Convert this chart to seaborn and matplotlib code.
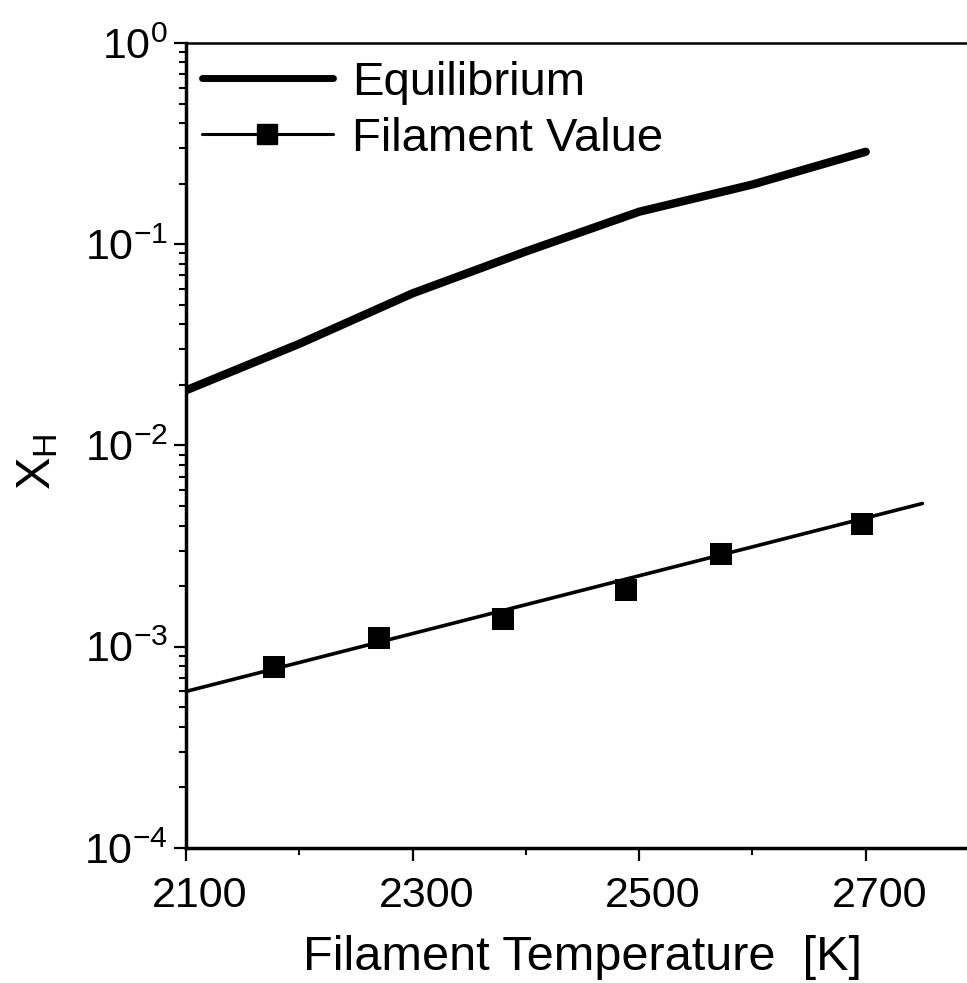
import numpy as np
import pandas as pd
import seaborn as sns
import matplotlib
matplotlib.use("Agg")
import matplotlib.pyplot as plt
from matplotlib.lines import Line2D
from matplotlib.ticker import FixedLocator, MultipleLocator, LogLocator, NullFormatter
from matplotlib.transforms import ScaledTranslation

# Equilibrium H mole fraction vs filament temperature
eq_T = [2100, 2200, 2300, 2400, 2500, 2600, 2700]
eq_X = [0.0188, 0.032, 0.057, 0.092, 0.145, 0.198, 0.288]

# Measured filament values
fil_T = [2178, 2270, 2380, 2488, 2572, 2697]
fil_X = [7.95e-4, 1.10e-3, 1.38e-3, 1.92e-3, 2.90e-3, 4.09e-3]

# Exponential fit through the filament values
fit_T = [2100, 2750]
fit_X = [6.0e-4, 5.15e-3]

x_ticks = [2100, 2300, 2500, 2700]
x_tick_labels = ["2100", "2300", "2500", "2700"]

sns.set_style("ticks")
plt.rcParams["font.family"] = ["Liberation Sans", "DejaVu Sans"]
plt.rcParams["mathtext.fontset"] = "custom"
plt.rcParams["mathtext.rm"] = "Liberation Sans"
plt.rcParams["mathtext.it"] = "Liberation Sans:italic"
plt.rcParams["mathtext.bf"] = "Liberation Sans:bold"
plt.rcParams["text.color"] = "black"

fig = plt.figure(figsize=(9.67, 9.83), dpi=100)
ax = fig.add_axes([0.1923, 0.1373, 1.0124 - 0.1923, 0.9563 - 0.1373])

eq_df = pd.DataFrame({"T": eq_T, "X": eq_X})
fit_df = pd.DataFrame({"T": fit_T, "X": fit_X})
fil_df = pd.DataFrame({"T": fil_T, "X": fil_X})

sns.lineplot(data=eq_df, x="T", y="X", ax=ax, color="black", linewidth=6.0,
             solid_capstyle="round", solid_joinstyle="round", legend=False)
sns.lineplot(data=fit_df, x="T", y="X", ax=ax, color="black", linewidth=2.6,
             solid_capstyle="round", legend=False)
sns.scatterplot(data=fil_df, x="T", y="X", ax=ax, color="black", marker="s",
                s=16 ** 2, linewidth=0, legend=False, zorder=3)

ax.set_yscale("log")
ax.set_xlim(2100, 2800)
ax.set_ylim(1e-4, 1)

ax.xaxis.set_major_locator(FixedLocator(x_ticks))
ax.set_xticklabels(x_tick_labels)
ax.xaxis.set_minor_locator(MultipleLocator(100))
ax.yaxis.set_major_locator(LogLocator(base=10, numticks=10))
ax.yaxis.set_minor_locator(LogLocator(base=10, subs=np.arange(2, 10), numticks=20))
ax.yaxis.set_minor_formatter(NullFormatter())

ax.tick_params(axis="both", which="major", direction="out", length=9, width=1.6,
               labelsize=31, color="black", labelcolor="black")
ax.tick_params(axis="both", which="minor", direction="out", length=5, width=1.5,
               color="black")
ax.tick_params(axis="x", which="major", pad=11)
ax.tick_params(axis="y", which="major", pad=4)

for side in ["left", "bottom"]:
    ax.spines[side].set_linewidth(2.5)
    ax.spines[side].set_color("black")
ax.spines["top"].set_visible(True)
ax.spines["top"].set_linewidth(1.8)
ax.spines["top"].set_color("black")
ax.spines["right"].set_visible(False)

shift = ScaledTranslation(0.14, 0, fig.dpi_scale_trans)
for lab in ax.get_xticklabels():
    lab.set_transform(lab.get_transform() + shift)

ax.set_xlabel("Filament Temperature  [K]", fontsize=35, color="black")
ax.xaxis.set_label_coords(0.5, -0.108)
ax.set_ylabel(r"$\mathrm{X_H}$", fontsize=35, color="black")
ax.yaxis.set_label_coords(-0.158, 0.48)

handles = [
    Line2D([], [], color="black", linewidth=5.0),
    Line2D([], [], color="black", linewidth=2.2, marker="s", markersize=15),
]
ax.legend(handles, ["Equilibrium", "Filament Value"], loc="upper left",
          bbox_to_anchor=(0.02, 0.9776), frameon=False, fontsize=34,
          handlelength=2.77, handletextpad=0.42, borderaxespad=0,
          borderpad=0, labelspacing=0.25, labelcolor="black")

fig.savefig("out.png", dpi=100)
